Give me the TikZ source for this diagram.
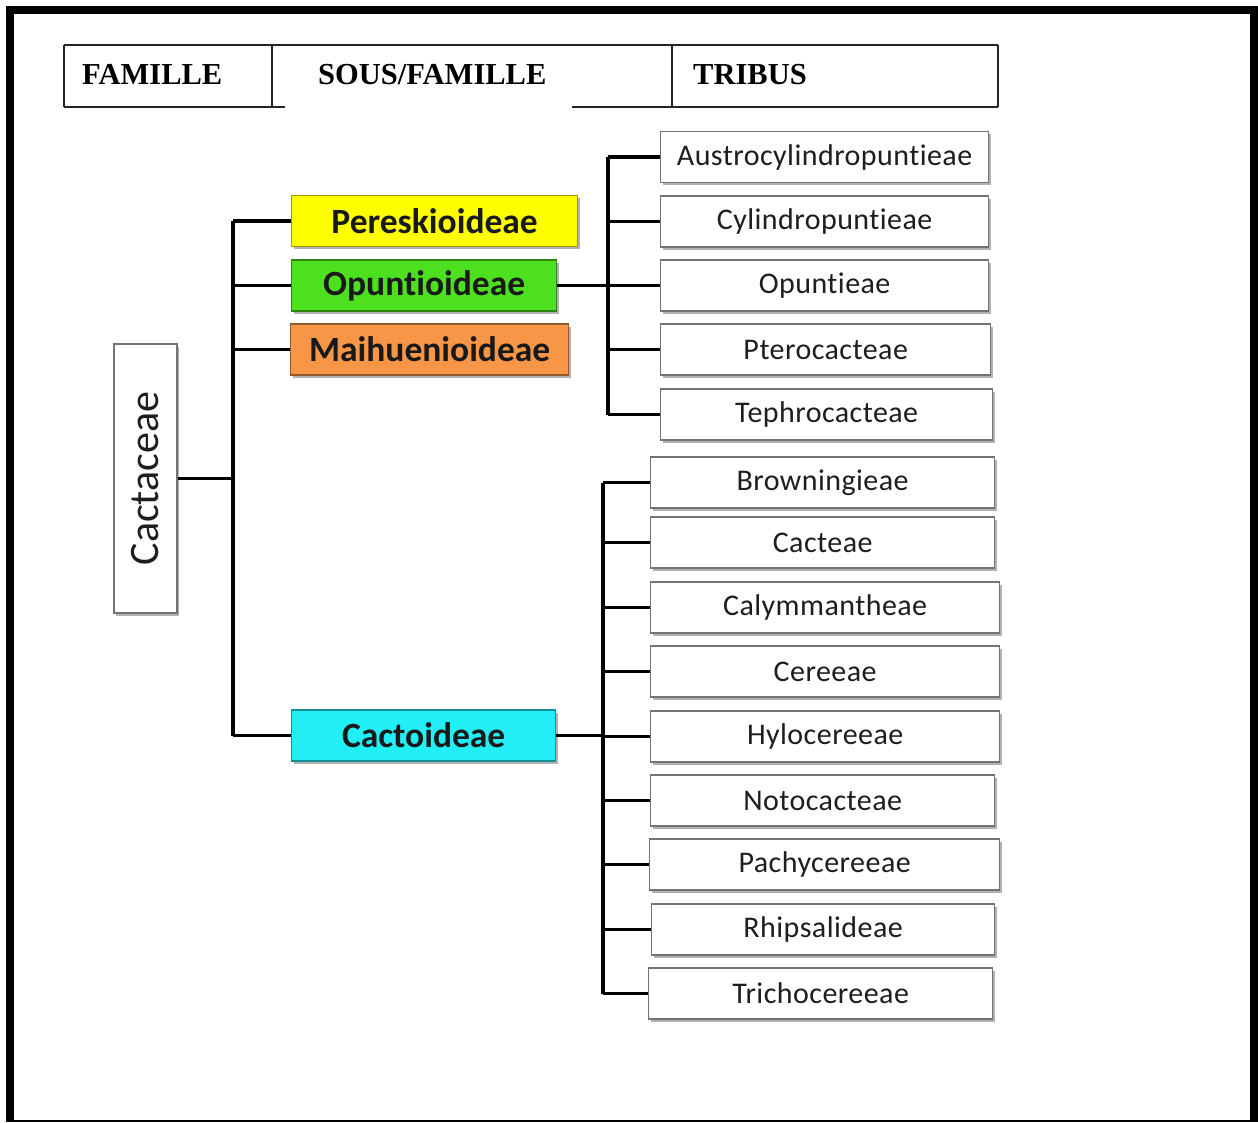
\documentclass[tikz,border=0pt]{standalone}
\usepackage{fontspec}
\setmainfont{Liberation Serif}
\newfontfamily\calfont[RawFeature=-liga]{Carlito}
\newfontfamily\calspaced[RawFeature=-liga,LetterSpace=1.5]{Carlito}
\usetikzlibrary{shadows}
\definecolor{cyel}{HTML}{FFFF00}
\definecolor{cgrn}{HTML}{4CE01E}
\definecolor{corg}{HTML}{F79646}
\definecolor{ccya}{HTML}{22EEF5}
\definecolor{ctxt}{HTML}{1E1E1E}
\begin{document}
\begin{tikzpicture}[x=1pt,y=-1pt,
  shad/.style={drop shadow={shadow xshift=2pt,shadow yshift=-2.5pt,fill=black!55,opacity=0.55}},
  tribe/.style={shad,draw=black!55,fill=white,line width=1.3pt,minimum height=51pt,inner sep=0pt,anchor=west,
    font=\calspaced\fontsize{30}{36}\selectfont,text=ctxt},
  sub/.style={shad,line width=1.3pt,minimum height=51pt,inner sep=0pt,anchor=west,
    font=\calfont\bfseries\fontsize{35.5}{40}\selectfont,text=black!90},
  head/.style={anchor=base west,inner sep=0pt,font=\bfseries\fontsize{30.5}{36}\selectfont},
  conn/.style={line width=3.5pt,black},
  hline/.style={line width=2pt,black!85}]
\useasboundingbox (0,0) rectangle (1258,1122);
\fill[white] (0,0) rectangle (1258,1122);
% frame
\fill[black] (6,6) rectangle (1258,14);
\fill[black] (6,6) rectangle (14,1122);
\fill[black] (1250,6) rectangle (1258,1122);
\fill[black] (6,1120) rectangle (1258,1122);
% header
\draw[hline] (64,45) -- (998,45);
\draw[hline] (64,45) -- (64,107);
\draw[hline] (998,45) -- (998,107);
\draw[hline] (272,45) -- (272,107);
\draw[hline] (672,45) -- (672,107);
\draw[hline] (64,107) -- (285,107);
\draw[hline] (572,107) -- (998,107);
\node[head] (hfam) at (82,84) {FAMILLE};
\node[head] (hsous) at (318,84) {SOUS/FAMILLE};
\node[head] (htrib) at (693,84) {TRIBUS};
% family
\node[shad,draw=black!55,fill=white,line width=1.3pt,rotate=90,minimum width=269pt,minimum height=63pt,inner sep=0pt,
  font=\calfont\fontsize{42}{48}\selectfont,text=ctxt] (cact) at (145.5,478.5) {Cactaceae};
% subfamilies
\node[sub,fill=cyel,draw=cyel!60!black,minimum width=286pt] (pere) at (291,221) {Pereskioideae};
\node[sub,fill=cgrn,draw=cgrn!60!black,minimum width=265pt] (opun) at (291,285.5) {Opuntioideae};
\node[sub,fill=corg,draw=corg!60!black,minimum width=278pt] (maih) at (290,349.5) {Maihuenioideae};
\node[sub,fill=ccya,draw=ccya!60!black,minimum width=264pt] (cacto) at (291,735.5) {Cactoideae};
% tribes group 1
\node[tribe,minimum width=328pt] (t1) at (660,157) {Austrocylindropuntieae};
\node[tribe,minimum width=328pt] (t2) at (660,221.5) {Cylindropuntieae};
\node[tribe,minimum width=328pt] (t3) at (660,285.5) {Opuntieae};
\node[tribe,minimum width=330pt] (t4) at (660,349.5) {Pterocacteae};
\node[tribe,minimum width=332pt] (t5) at (660,414.5) {Tephrocacteae};
% tribes group 2
\node[tribe,minimum width=344pt] (u1) at (650,482.5) {Browningieae};
\node[tribe,minimum width=344pt] (u2) at (650,542.5) {Cacteae};
\node[tribe,minimum width=349pt] (u3) at (650,607.5) {Calymmantheae};
\node[tribe,minimum width=349pt] (u4) at (650,671.5) {Cereeae};
\node[tribe,minimum width=349pt] (u5) at (650,736.5) {Hylocereeae};
\node[tribe,minimum width=344pt] (u6) at (650,800.5) {Notocacteae};
\node[tribe,minimum width=350pt] (u7) at (649,864.5) {Pachycereeae};
\node[tribe,minimum width=343pt] (u8) at (651,929.5) {Rhipsalideae};
\node[tribe,minimum width=344pt] (u9) at (648,993.5) {Trichocereeae};
% spines
\coordinate (sa) at (233,0);
\coordinate (sb) at (608,0);
\coordinate (sc) at (603,0);
\draw[conn] (cact.south) -- (cact.south -| sa);
\draw[conn] (pere.west -| sa) -- (cacto.west -| sa);
\foreach \n in {pere,opun,maih,cacto} \draw[conn] (\n.west) -- (\n.west -| sa);
\draw[conn] (opun.east) -- (t3.west);
\draw[conn] (t1.west -| sb) -- (t5.west -| sb);
\foreach \n in {t1,t2,t4,t5} \draw[conn] (\n.west) -- (\n.west -| sb);
\draw[conn] (cacto.east) -- (cacto.east -| sc);
\draw[conn] (u1.west -| sc) -- (u9.west -| sc);
\foreach \n in {u1,u2,u3,u4,u5,u6,u7,u8,u9} \draw[conn] (\n.west) -- (\n.west -| sc);
\end{tikzpicture}
\end{document}
